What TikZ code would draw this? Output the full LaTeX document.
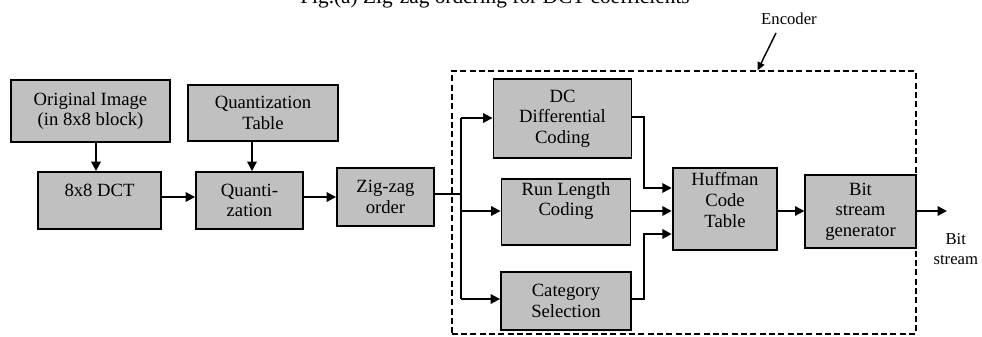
\documentclass[tikz,border=0pt]{standalone}
\usepackage{fontspec}
\setmainfont{Liberation Serif}
\usetikzlibrary{arrows.meta}
\definecolor{boxgray}{HTML}{C0C0C0}
\begin{document}
\begin{tikzpicture}[x=0.75pt,y=-0.75pt,
  blk/.style={draw=black,line width=1.4pt,fill=boxgray,align=center,inner sep=0pt,
    font=\fontsize{14}{15.5}\selectfont},
  conn/.style={line width=1.4pt},
  arr/.style={line width=1.4pt,-{Triangle[length=7pt,width=7pt]}},
  lbl/.style={align=center,inner sep=0pt,font=\fontsize{12.5}{15}\selectfont}]
\useasboundingbox (0,0) rectangle (982,336);
% title (cut at the top)
\node[anchor=base,inner sep=0pt,font=\fontsize{16}{18}\selectfont] (title) at (495,3.5) {Fig.(a) Zig-zag ordering for DCT coefficients};
% encoder frame
\node[draw,dash pattern=on 4.5pt off 2.5pt,line width=1.3pt,minimum width=348pt,minimum height=197pt,inner sep=0pt] (enc) at (683.8,202.5) {};
\node[lbl] (enclbl) at (789,19) {Encoder};
\coordinate (ea) at (776,33);
\draw[line width=1.1pt,-{Triangle[length=6pt,width=5.5pt]}] (ea) -- (enc.north -| 757.6,0);
% boxes
\node[blk,minimum width=119.25pt,minimum height=46.5pt] (orig) at (90.5,111) {Original Image\\(in 8x8 block)};
\node[blk,minimum width=112.5pt,minimum height=42pt] (qtab) at (263,113) {Quantization\\Table};
\node[blk,minimum width=92.25pt,minimum height=42.75pt] (dct) at (99.5,200.5) {8x8 DCT\\\mbox{}};
\node[blk,minimum width=80.25pt,minimum height=42.75pt] (quant) at (249.5,200.5) {Quanti-\\zation};
\node[blk,minimum width=72.75pt,minimum height=43.5pt] (zz) at (385.5,197) {Zig-zag\\order};
\node[blk,minimum width=103.5pt,minimum height=59.25pt] (dc) at (562.5,118.5) {DC\\Differential\\Coding};
\node[blk,minimum width=96.75pt,minimum height=49.5pt] (rl) at (566,212) {Run Length\\Coding\\[4pt]};
\node[blk,minimum width=97.5pt,minimum height=43.5pt] (cat) at (566,301) {Category\\Selection};
\node[blk,minimum width=78.5pt,minimum height=61.5pt] (huff) at (725,209) {Huffman\\Code\\Table\\[-2pt]};
\node[blk,minimum width=82.8pt,minimum height=54.75pt] (bsg) at (860.5,211.5) {Bit\\stream\\generator};
\node[lbl] (bitlbl) at (955.8,249) {Bit\\stream};
% coordinates
\coordinate (b1) at (461,118);
\coordinate (b2) at (461,211);
\coordinate (b3) at (461,299);
\coordinate (bz) at (461,194);
\coordinate (j1) at (644,117);
\coordinate (j2) at (644,188);
\coordinate (k1) at (644,299);
\coordinate (k2) at (644,234);
\coordinate (out) at (947,211);
% connectors
\draw[arr] (orig.south -| 96,0) -- (dct.north -| 96,0);
\draw[arr] (qtab.south -| 252,0) -- (quant.north -| 252,0);
\draw[arr] (dct.east |- 0,197) -- (quant.west |- 0,197);
\draw[arr] (quant.east |- 0,197) -- (zz.west |- 0,197);
\draw[conn] (zz.east |- bz) -- (bz);
\draw[conn] (b1) -- (b3);
\draw[arr] (b1) -- (dc.west |- b1);
\draw[arr] (b2) -- (rl.west |- b2);
\draw[arr] (b3) -- (cat.west |- b3);
\draw[arr] (dc.east |- j1) -- (j1) -- (j2) -- (huff.west |- j2);
\draw[arr] (rl.east |- b2) -- (huff.west |- b2);
\draw[arr,line width=1.8pt] (cat.east |- k1) -- (k1) -- (k2) -- (huff.west |- k2);
\draw[arr] (huff.east |- b2) -- (bsg.west |- b2);
\draw[arr] (bsg.east |- out) -- (out);
\end{tikzpicture}
\end{document}
